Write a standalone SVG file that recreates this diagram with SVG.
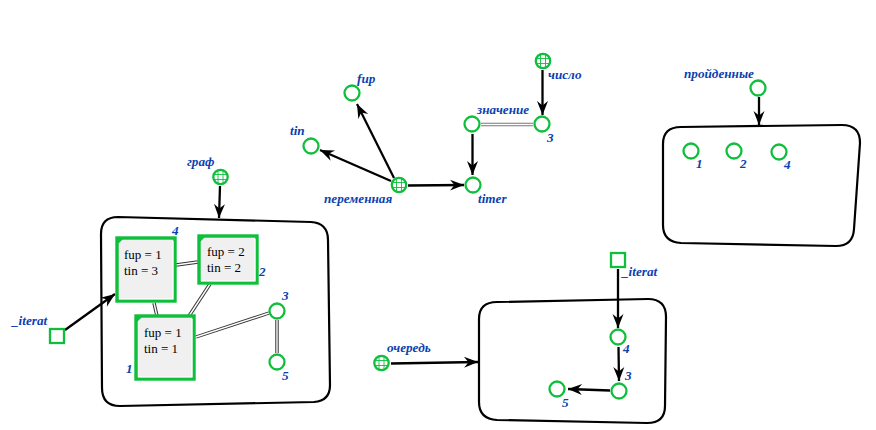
<svg xmlns="http://www.w3.org/2000/svg" xmlns:xlink="http://www.w3.org/1999/xlink" width="876" height="430" viewBox="0 0 876 430">
<style>
.box{fill:none;stroke:#000;stroke-width:2.2}
.c{fill:#fff;stroke:#0fbf3c;stroke-width:2.3}
.grid{fill:none;stroke:#0fbf3c;stroke-width:.9}
.card{fill:#f0f0f0;stroke:#0fbf3c;stroke-width:3.4}
.hl{fill:none;stroke:#fff;stroke-width:1.2}
.tri{fill:#0fbf3c}
.arr{fill:none;stroke:#000;stroke-width:2.3;marker-end:url(#ah)}
.d1{fill:none;stroke:#333;stroke-width:3.4}
.d2{fill:none;stroke:#fff;stroke-width:1.4}
.l{font:italic bold 13.2px "Liberation Serif",serif;fill:#0b3fb0}
.t{font:13px "Liberation Serif",serif;fill:#000}
</style>
<defs>
<marker id="ah" markerUnits="userSpaceOnUse" markerWidth="18" markerHeight="14" refX="14" refY="7" orient="auto" overflow="visible">
<path d="M14,7 L0,1.5 L4.5,7 L0,12.5 Z" fill="#000"/>
</marker>
<g id="globe">
<circle class="c" r="7.2"/>
<path class="grid" d="M-2.5,-6.5V6.5M2.5,-6.5V6.5M-6.5,-2.5H6.5M-6.5,2.5H6.5"/>
</g>
</defs>
<g id="connectors">
<path class="arr" d="M220,186L219,218"/>
<path class="arr" d="M65,330L115,294"/>
<path class="arr" d="M394,178L357,104"/>
<path class="arr" d="M391,181L320,150"/>
<path class="arr" d="M408,185.5L464,185"/>
<path class="arr" d="M472.5,134L472.5,175"/>
<path class="arr" d="M542.500,70L542.500,115"/>
<path class="arr" d="M618,269L618,328"/>
<path class="arr" d="M618.500,347L619,381"/>
<path class="arr" d="M610,390.500L568,389"/>
<path class="arr" d="M391,363.500L478,362"/>
<path class="arr" d="M759,97L759,125"/>
<g class="d1"><path d="M176,265L198,262"/><path d="M154,303L157,316"/><path d="M210,284L189,316"/><path d="M196,337L269,313"/><path d="M277,320L277,353"/><path d="M481,124.500L533,124.500" stroke="#777"/></g>
<g class="d2"><path d="M176,265L198,262"/><path d="M154,303L157,316"/><path d="M210,284L189,316"/><path d="M196,337L269,313"/><path d="M277,320L277,353"/><path d="M481,124.500L533,124.500"/></g>
</g>
<g id="box-graph"><path class="box" d="M118,217L311,222Q328,223 328,240L330,385Q330,401 314,402L120,406Q102,406 102,388L101,234Q101,217 118,217Z"/></g>
<g id="box-queue"><path class="box" d="M497,302L648,299Q666,299 666,317L665,406Q665,423 647,423L497,420Q479,419 479,402L479,319Q479,302 497,302Z"/></g>
<g id="box-visited"><path class="box" d="M681,127L842,125Q860,125 860,143L854,229Q853,246 836,246L681,243Q663,242 663,225L663,144Q663,127 681,127Z"/></g>
<g id="node-graph"><use xlink:href="#globe" x="220.500" y="177"/><text class="l" x="187" y="166">граф</text></g>
<g id="node-iterat1"><rect class="c" x="50" y="329" width="14" height="14"/><text class="l" x="12" y="325">_iterat</text></g>
<g id="node-4"><rect class="card" x="117" y="238" width="58" height="63"/><path class="tri" d="M117,238H124L117,245Z"/><path class="hl" d="M173,241V299H119"/><text class="t" x="124" y="259">fup = 1</text><text class="t" x="124" y="275">tin = 3</text><text class="l" x="172" y="235">4</text></g>
<g id="node-2"><rect class="card" x="199" y="236" width="58" height="47"/><path class="tri" d="M199,236H206L199,243Z"/><path class="hl" d="M255,239V281H201"/><text class="t" x="207" y="256">fup = 2</text><text class="t" x="207" y="272">tin = 2</text><text class="l" x="259" y="276">2</text></g>
<g id="node-1"><rect class="card" x="136" y="316" width="58" height="63"/><path class="tri" d="M136,316H143L136,323Z"/><path class="hl" d="M192,319V377H138"/><text class="t" x="144" y="337">fup = 1</text><text class="t" x="144" y="353">tin = 1</text><text class="l" x="126" y="373">1</text></g>
<g id="node-3"><circle class="c" cx="277" cy="311" r="7.5"/><text class="l" x="282" y="300">3</text></g>
<g id="node-5"><circle class="c" cx="277" cy="362" r="7.5"/><text class="l" x="282" y="380">5</text></g>
<g id="node-fup"><circle class="c" cx="352" cy="93" r="7.5"/><text class="l" x="357" y="83">fup</text></g>
<g id="node-tin"><circle class="c" cx="311" cy="146" r="7.5"/><text class="l" x="290" y="135">tin</text></g>
<g id="node-var"><use xlink:href="#globe" x="399" y="185"/><text class="l" x="324" y="203">переменная</text></g>
<g id="node-timer"><circle class="c" cx="473" cy="185" r="7.5"/><text class="l" x="478" y="203">timer</text></g>
<g id="node-value"><circle class="c" cx="472" cy="124" r="7.5"/><text class="l" x="477" y="114">значение</text></g>
<g id="node-v3"><circle class="c" cx="542" cy="124" r="7.5"/><text class="l" x="547" y="142">3</text></g>
<g id="node-num"><use xlink:href="#globe" x="543" y="61"/><text class="l" x="548" y="79">число</text></g>
<g id="node-queue"><use xlink:href="#globe" x="381.500" y="363"/><text class="l" x="387" y="352">очередь</text></g>
<g id="node-iterat2"><rect class="c" x="611" y="253" width="14" height="14"/><text class="l" x="622" y="276">_iterat</text></g>
<g id="node-q4"><circle class="c" cx="618" cy="337" r="7.5"/><text class="l" x="623" y="353">4</text></g>
<g id="node-q3"><circle class="c" cx="619" cy="391" r="7.5"/><text class="l" x="625" y="380">3</text></g>
<g id="node-q5"><circle class="c" cx="557" cy="389" r="7.5"/><text class="l" x="562" y="407">5</text></g>
<g id="node-visited"><circle class="c" cx="758" cy="88" r="7.5"/><text class="l" x="684" y="78">пройденные</text></g>
<g id="node-p1"><circle class="c" cx="691" cy="151" r="7.5"/><text class="l" x="696" y="168">1</text></g>
<g id="node-p2"><circle class="c" cx="734" cy="151" r="7.5"/><text class="l" x="740" y="168">2</text></g>
<g id="node-p4"><circle class="c" cx="779" cy="152" r="7.5"/><text class="l" x="784" y="169">4</text></g>
</svg>
